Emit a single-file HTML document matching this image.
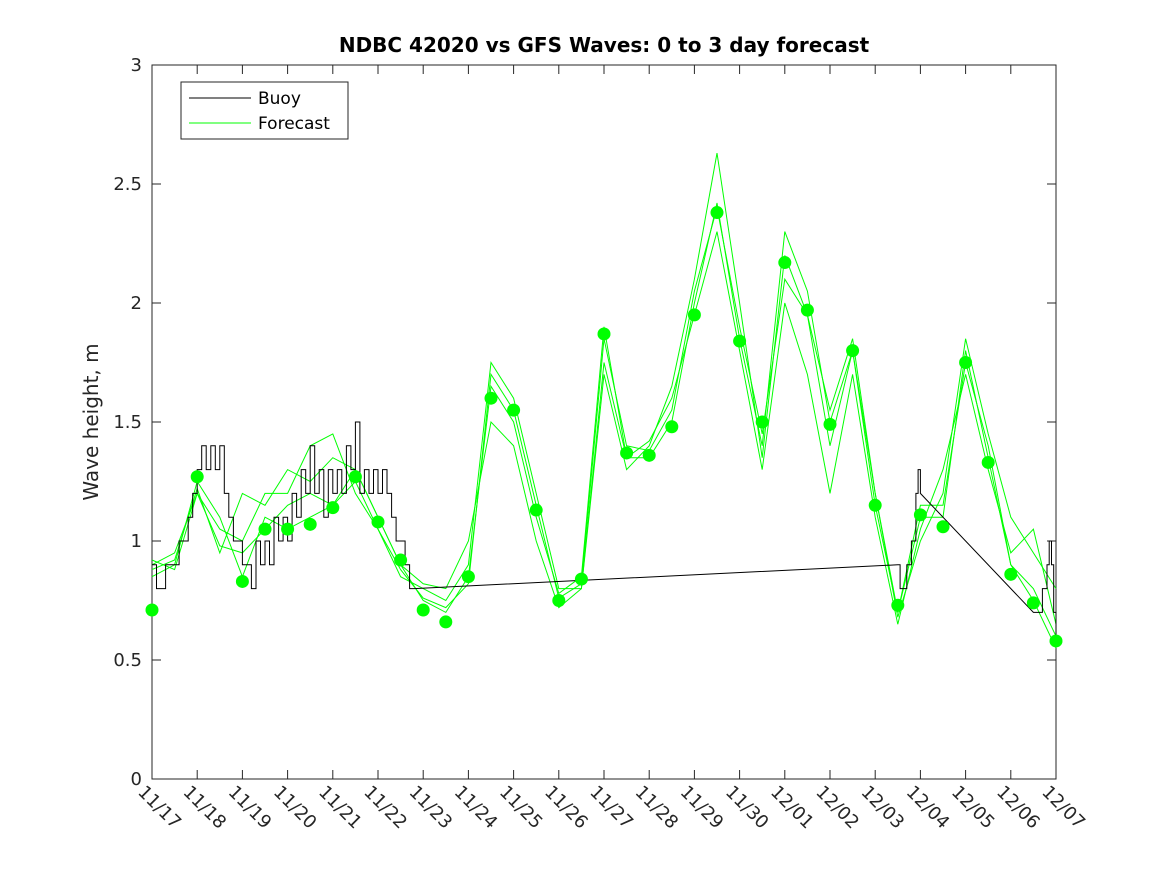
<!DOCTYPE html>
<html><head><meta charset="utf-8"><style>
body{margin:0;background:#fff;}
svg{display:block;font-family:"DejaVu Sans","Liberation Sans",sans-serif;}
</style></head><body>
<svg id="chart" width="1167" height="875">
<rect x="0" y="0" width="1167" height="875" fill="#fff"/>
<text x="604" y="52" text-anchor="middle" font-size="20" font-weight="bold" fill="#000">NDBC 42020 vs GFS Waves: 0 to 3 day forecast</text>
<text transform="translate(98,422) rotate(-90)" text-anchor="middle" font-size="20" fill="#262626">Wave height, m</text>
<g id="axes"></g>
<g id="series"></g>
<g>
<rect x="181" y="82" width="167" height="57" fill="#fff" stroke="#262626" stroke-width="1"/>
<line x1="189" y1="98" x2="251" y2="98" stroke="#000"/>
<text x="258" y="104" font-size="17" fill="#000">Buoy</text>
<line x1="189" y1="123" x2="251" y2="123" stroke="#00ff00"/>
<text x="258" y="129" font-size="17" fill="#000">Forecast</text>
</g>
</svg>
<script>
const xTickLabels=["11/17","11/18","11/19","11/20","11/21","11/22","11/23","11/24","11/25","11/26","11/27","11/28","11/29","11/30","12/01","12/02","12/03","12/04","12/05","12/06","12/07"];
const yTicks=[0,0.5,1,1.5,2,2.5,3];
const yTickLabels=["0","0.5","1","1.5","2","2.5","3"];
const dotDays=[0,1,2,2.5,3,3.5,4,4.5,5,5.5,6,6.5,7,7.5,8,8.5,9,9.5,10,10.5,11,11.5,12,12.5,13,13.5,14,14.5,15,15.5,16,16.5,17,17.5,18,18.5,19,19.5,20];
const dotValues=[0.71,1.27,0.83,1.05,1.05,1.07,1.14,1.27,1.08,0.92,0.71,0.66,0.85,1.60,1.55,1.13,0.75,0.84,1.87,1.37,1.36,1.48,1.95,2.38,1.84,1.50,2.17,1.97,1.49,1.80,1.15,0.73,1.11,1.06,1.75,1.33,0.86,0.74,0.58];
const buoyDays=[0,0.1,0.3,0.5,0.6,0.8,0.9,1.0,1.1,1.2,1.3,1.4,1.5,1.6,1.7,1.8,1.9,2.0,2.1,2.2,2.3,2.4,2.5,2.6,2.7,2.8,2.9,3.0,3.1,3.2,3.3,3.4,3.5,3.6,3.7,3.8,3.9,4.0,4.1,4.2,4.3,4.4,4.5,4.6,4.7,4.8,4.9,5.0,5.1,5.2,5.3,5.4,5.5,5.6,5.7,5.8,16.5,16.55,16.7,16.8,16.9,16.95,17.0,19.5,19.6,19.7,19.8,19.85,19.9,19.95,20.0];
const buoyValues=[0.9,0.8,0.9,0.9,1.0,1.1,1.2,1.3,1.4,1.3,1.4,1.3,1.4,1.2,1.1,1.0,1.0,0.9,0.9,0.8,1.0,0.9,1.0,0.9,1.1,1.0,1.1,1.0,1.2,1.1,1.3,1.2,1.4,1.2,1.3,1.1,1.3,1.2,1.3,1.2,1.4,1.3,1.5,1.2,1.3,1.2,1.3,1.2,1.3,1.2,1.1,1.0,1.0,0.9,0.8,0.8,0.9,0.8,0.9,1.0,1.2,1.3,1.2,0.7,0.7,0.8,0.9,1.0,0.9,0.7,0.6];
const fcDays=[0,0.5,1,1.5,2,2.5,3,3.5,4,4.5,5,5.5,6,6.5,7,7.5,8,8.5,9,9.5,10,10.5,11,11.5,12,12.5,13,13.5,14,14.5,15,15.5,16,16.5,17,17.5,18,18.5,19,19.5,20];
const fc1=[0.85,0.9,1.25,1.1,0.85,1.1,1.05,1.1,1.15,1.3,1.1,0.9,0.75,0.7,0.85,1.65,1.5,1.1,0.78,0.85,1.9,1.35,1.35,1.5,2.0,2.42,1.85,1.4,2.3,2.05,1.5,1.8,1.15,0.7,1.1,1.1,1.8,1.35,0.9,0.75,0.55];
const fc2=[0.9,0.95,1.2,1.05,1.0,1.2,1.2,1.4,1.45,1.2,1.05,0.85,0.8,0.75,0.9,1.75,1.6,1.2,0.8,0.8,1.7,1.3,1.4,1.65,2.1,2.63,2.0,1.35,2.2,1.95,1.55,1.85,1.2,0.68,1.0,1.2,1.85,1.45,1.1,0.95,0.8];
const fc3=[0.88,0.92,1.22,0.95,1.2,1.15,1.3,1.25,1.35,1.3,1.1,0.9,0.82,0.8,1.0,1.5,1.4,1.0,0.72,0.8,1.75,1.35,1.42,1.6,1.95,2.3,1.8,1.3,2.0,1.7,1.2,1.7,1.1,0.65,1.05,1.3,1.7,1.3,0.95,1.05,0.65];
const fc4=[0.92,0.88,1.2,0.98,0.95,1.05,1.15,1.2,1.15,1.25,1.05,0.88,0.76,0.72,0.82,1.7,1.55,1.15,0.76,0.82,1.85,1.4,1.38,1.55,2.05,2.4,1.9,1.45,2.1,1.95,1.4,1.8,1.2,0.7,1.15,1.15,1.75,1.4,0.9,0.8,0.6];

const X0=152,X1=1056,Y0=779,Y1=65,NS="http://www.w3.org/2000/svg";
const xs=d=>X0+(X1-X0)*d/20;
const ys=v=>Y0-(Y0-Y1)*v/3;
function mk(tag,attrs,parent){const e=document.createElementNS(NS,tag);for(const k in attrs)e.setAttribute(k,attrs[k]);parent.appendChild(e);return e;}
const axes=document.getElementById('axes'),ser=document.getElementById('series');
const frame=mk('rect',{x:X0,y:Y1,width:X1-X0,height:Y0-Y1,fill:'none',stroke:'#262626','stroke-width':1},axes);


xTickLabels.forEach((lab,i)=>{
  const x=xs(i);
  mk('line',{x1:x,y1:Y0,x2:x,y2:Y0-9,stroke:'#262626'},axes);
  mk('line',{x1:x,y1:Y1,x2:x,y2:Y1+9,stroke:'#262626'},axes);
  const t=mk('text',{transform:`translate(${x-15},${Y0+14}) rotate(45)`,'font-size':18,fill:'#262626'},axes);
  t.textContent=lab;
  
  
});
yTicks.forEach((v,i)=>{
  const y=ys(v);
  mk('line',{x1:X0,y1:y,x2:X0+9,y2:y,stroke:'#262626'},axes);
  mk('line',{x1:X1,y1:y,x2:X1-9,y2:y,stroke:'#262626'},axes);
  const t=mk('text',{x:X0-10,y:y+6,'text-anchor':'end','font-size':18,fill:'#262626'},axes);
  t.textContent=yTickLabels[i];
  
  
});
[fc1,fc2,fc3,fc4].forEach((s,k)=>{
  const p=s.map((v,i)=>`${xs(fcDays[i]).toFixed(1)},${ys(v).toFixed(1)}`).join(' ');
  const l=mk('polyline',{points:p,fill:'none',stroke:'#00ff00','stroke-width':1},ser);
  
  
});
let bp=[];
buoyDays.forEach((d,i)=>{
  if(i>0 && d-buoyDays[i-1]<0.5) bp.push(`${xs(d).toFixed(1)},${ys(buoyValues[i-1]).toFixed(1)}`);
  bp.push(`${xs(d).toFixed(1)},${ys(buoyValues[i]).toFixed(1)}`);
});
const bl=mk('polyline',{points:bp.join(' '),fill:'none',stroke:'#000','stroke-width':1},ser);


dotDays.forEach((d,i)=>{
  const c=mk('circle',{cx:xs(d),cy:ys(dotValues[i]),r:6.5,fill:'#00ff00'},ser);
  
  
});
</script>
</body></html>
